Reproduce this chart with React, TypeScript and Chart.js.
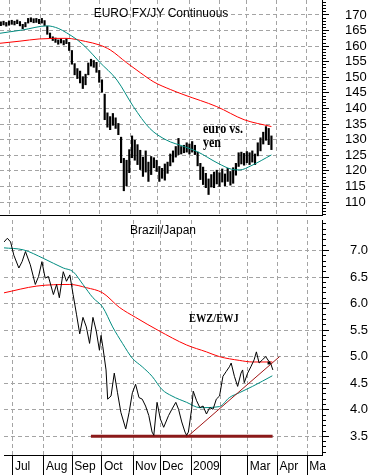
import React, { useEffect, useRef } from 'react';
import { Chart, registerables } from 'chart.js';

Chart.register(...registerables);

const FONT = '"Liberation Sans", Arial, Helvetica, sans-serif';
const SERIF = '"Liberation Serif", "Times New Roman", serif';
const RED = '#ff0000';
const TEAL = '#008c80';
const GRID = '#a4a4a4';

// x = trading-day index counted from 1 Jul 2008
const xMin = -6.6;
const xMax = 229;
const monthTicks = [0, 23, 44, 66, 89, 109, 132, 154, 174, 196, 218];
const monthLabels = ['Jul', 'Aug', 'Sep', 'Oct', 'Nov', 'Dec', '2009', '', 'Mar', 'Apr', 'Ma'];

// ---------- top panel: EURO FX/JY ----------
const fxTicks = [110, 115, 120, 125, 130, 135, 140, 145, 150, 155, 160, 165, 170];
const fxMin = 105.83;
const fxMax = 174.8;
const fxDays = [
  -6, -4, -2, 0, 2, 4, 6, 8, 10, 12, 14, 16, 18, 20, 22, 24, 26, 28, 30, 32,
  34, 36, 38, 40, 42, 44, 46, 48, 50, 52, 54, 56, 58, 60, 62, 64, 66, 68, 70, 72,
  74, 76, 78, 80, 82, 84, 86, 88, 90, 92, 94, 96, 98, 100, 102, 104, 106, 108, 110, 112,
  114, 116, 118, 120, 122, 124, 126, 128, 130, 132, 134, 136, 138, 140, 142, 144, 146, 148, 150, 152,
  154, 156, 158, 160, 162, 164, 166, 168, 170, 172, 174, 176, 178, 180, 182, 184, 186, 188, 190, 192,
];
const fxLow = [
  166.6, 166.8, 166.4, 166.7, 167.0, 166.8, 167.2, 166.5, 165.6, 166.2,
  167.4, 167.8, 167.5, 167.6, 167.2, 167.4, 166.6, 163.8, 162.6, 161.8,
  161.2, 160.6, 161.0, 160.4, 160.8, 158.6, 154.2, 150.8, 149.6, 148.2,
  146.4, 147.6, 150.8, 153.6, 153.2, 151.6, 148.4, 145.2, 136.4, 134.0,
  133.2, 134.6, 133.6, 131.6, 122.6, 113.6, 115.2, 119.4, 124.2, 123.4,
  122.0, 120.4, 118.2, 119.6, 116.6, 118.8, 121.0, 119.8, 116.6, 117.6,
  117.0, 119.2, 121.6, 122.8, 124.4, 125.2, 125.4, 125.8, 126.0, 125.4,
  126.0, 125.2, 121.6, 117.2, 115.6, 114.6, 112.4, 114.8, 114.6, 115.8,
  115.0, 116.4, 115.2, 116.6, 115.4, 116.0, 118.6, 121.4, 122.2, 121.8,
  122.6, 122.0, 122.8, 122.0, 124.8, 126.4, 128.6, 129.8, 128.4, 126.8,
];
const fxHigh = [
  167.8, 168.0, 167.6, 168.1, 168.3, 168.0, 168.4, 167.9, 167.0, 167.6,
  168.9, 169.1, 168.8, 168.9, 168.6, 168.9, 168.2, 166.4, 164.2, 163.0,
  162.6, 162.0, 162.4, 161.8, 162.4, 161.2, 158.6, 154.4, 152.8, 152.0,
  150.2, 151.0, 154.6, 155.8, 155.4, 154.8, 152.2, 149.2, 144.6, 138.6,
  137.4, 138.4, 137.0, 135.2, 130.8, 124.0, 123.4, 126.8, 131.2, 129.8,
  128.4, 126.6, 124.4, 126.4, 122.8, 124.6, 124.2, 123.4, 121.4, 120.8,
  122.2, 122.8, 125.4, 126.4, 127.8, 130.4, 127.8, 128.2, 129.0, 128.6,
  129.4, 128.2, 126.0, 122.4, 121.2, 119.2, 117.4, 118.8, 119.6, 120.2,
  119.4, 120.6, 119.0, 120.8, 119.8, 121.0, 122.4, 125.8, 126.0, 125.6,
  126.2, 125.8, 126.4, 125.4, 129.0, 130.6, 132.4, 134.2, 133.6, 131.2,
];
const fxRedDays = [-7, 8, 22, 42, 56, 66, 74, 86, 96, 106, 118, 128, 152, 172, 192];
const fxRedVals = [160.9, 161.6, 162.3, 162.5, 161.5, 160.4, 158.8, 154.7, 151.5, 148.5, 146.1, 144.4, 140.6, 136.4, 134.2];
const fxTealDays = [-7, 10, 28, 36, 42, 50, 57, 66, 79, 91, 103, 115, 128, 138, 153, 163, 169, 177, 192];
const fxTealVals = [164.1, 165.2, 166.5, 165.7, 164.3, 162.0, 159.3, 155.0, 149.1, 140.6, 133.6, 129.9, 127.8, 126.1, 122.4, 120.5, 120.3, 121.6, 125.1];

// ---------- bottom panel: Brazil/Japan ----------
const bzTicks = [3.5, 4.0, 4.5, 5.0, 5.5, 6.0, 6.5, 7.0];
const bzMin = 3.148;
const bzMax = 7.574;
const bzDays = [
  -6.6, -4.1, -1.7, 0.7, 4.4, 6.8, 9.3, 12.9, 16.6, 19.0,
  21.5, 23.9, 26.3, 30.0, 32.4, 34.4, 37.3, 39.7, 42.2, 44.6,
  47.1, 49.5, 51.9, 54.4, 56.8, 59.3, 61.7, 64.1, 65.3, 66.6,
  69.0, 70.2, 72.7, 75.1, 77.5, 80.0, 83.6, 86.1, 88.5, 90.9,
  93.4, 95.8, 98.3, 100.7, 103.1, 104.4, 106.8, 109.2, 111.7, 115.3,
  117.8, 120.7, 122.7, 125.1, 127.5, 128.7, 130.0, 132.4, 133.6, 136.1,
  138.5, 140.9, 143.4, 145.8, 148.3, 150.7, 153.1, 155.6, 158.0, 160.4,
  161.7, 164.1, 166.5, 169.0, 170.2, 171.4, 173.9, 176.3, 178.7, 180.4,
  182.4, 184.8, 187.3, 189.7, 190.9, 192.6,
];
const bzVals = [
  7.16, 7.23, 7.16, 6.91, 6.67, 6.79, 6.98, 6.73, 6.36, 6.51,
  6.79, 6.48, 6.51, 6.17, 6.36, 6.11, 6.6, 6.42, 6.54, 6.17,
  5.8, 5.43, 5.74, 5.56, 5.25, 5.74, 5.49, 5.12, 5.4, 5.19,
  4.75, 4.2, 4.26, 4.69, 4.32, 3.95, 3.64, 3.95, 4.32, 4.48,
  4.23, 4.2, 4.07, 3.89, 3.58, 3.52, 4.14, 3.83, 3.67, 3.89,
  4.01, 4.14, 4.01, 3.77, 3.58, 3.52, 3.58, 4.01, 4.35, 4.17,
  4.04, 4.07, 3.92, 4.04, 4.01, 4.2, 4.26, 4.63, 4.72, 4.81,
  4.88, 4.63, 4.44, 4.69, 4.75, 4.51, 4.69, 4.81, 4.94, 5.09,
  4.88, 4.94, 5.0, 4.91, 4.88, 4.75,
];
const bzRedDays = [-7, 17.8, 42.2, 54.4, 66.6, 78.8, 90.9, 108, 128.7, 143.4, 153.1, 167.7, 177.5, 192.2];
const bzRedVals = [6.2, 6.33, 6.36, 6.3, 6.2, 5.93, 5.74, 5.49, 5.22, 5.09, 5.0, 4.93, 4.9, 4.9];
const bzTealDays = [-7, 8, 22.7, 37.3, 44.6, 51.9, 59.3, 66.6, 73.9, 81.2, 88.5, 95.8, 103.1, 110.5, 117.8, 128.7, 138.5, 153.1, 160.4, 167.7, 177.5, 192.2];
const bzTealVals = [7.05, 7.01, 6.85, 6.67, 6.6, 6.36, 6.11, 5.93, 5.56, 5.25, 4.97, 4.81, 4.63, 4.38, 4.26, 4.14, 4.04, 4.06, 4.23, 4.32, 4.44, 4.64];
const trendDays = [128.7, 197.5];
const trendVals = [3.48, 5.0];
const supportDays = [57.8, 192.4];
const supportVals = [3.5, 3.5];
const dotDays = [189.7];
const dotVals = [4.88];

const zip = (xs: number[], ys: number[]) => xs.map((x, i) => ({ x, y: ys[i] }));

// dashed grid placed through the chart's own scales; dashes painted as 1px rects
function dashedGridPlugin(yTicks: number[]) {
  return {
    id: 'dashedGrid',
    beforeDatasetsDraw(chart: any) {
      const { ctx, chartArea, scales } = chart;
      const { left, right, top, bottom } = chartArea;
      const on = 4;
      const period = 7;
      ctx.save();
      ctx.fillStyle = GRID;
      for (const v of yTicks) {
        const py = Math.floor(scales.y.getPixelForValue(v));
        if (py < top || py > bottom) continue;
        for (let x = left; x < right; x += period) ctx.fillRect(x, py, Math.min(on, right - x), 1);
      }
      for (const m of monthTicks) {
        const px = Math.floor(scales.x.getPixelForValue(m));
        if (px < left || px > right) continue;
        for (let y = top; y < bottom; y += period) ctx.fillRect(px, y, 1, Math.min(on, bottom - y));
      }
      ctx.restore();
    },
  };
}

type Note = { text: string; font: string; x: number | 'center'; y: number; align: CanvasTextAlign; sx?: number };

function notesPlugin(items: Note[]) {
  return {
    id: 'notes',
    afterDraw(chart: any) {
      const { ctx, chartArea } = chart;
      ctx.save();
      ctx.fillStyle = '#000';
      ctx.textBaseline = 'alphabetic';
      for (const it of items) {
        ctx.font = it.font;
        ctx.textAlign = it.align;
        const x = it.x === 'center' ? (chartArea.left + chartArea.right) / 2 : chartArea.left + it.x;
        const y = chartArea.top + it.y;
        ctx.save();
        ctx.translate(x, y);
        ctx.scale(it.sx ?? 1, 1);
        ctx.fillText(it.text, 0, 0);
        ctx.restore();
      }
      ctx.restore();
    },
  };
}

function yAxes(majors: number[], minorStep: number, min: number, max: number, fmt: (v: number) => string, pad: number) {
  return {
    y: {
      type: 'linear',
      position: 'right',
      min,
      max,
      weight: 1,
      afterBuildTicks: (s: any) => {
        s.ticks = majors.map((v) => ({ value: v }));
      },
      afterFit: (s: any) => {
        s.width = 49;
        s.paddingTop = 0;
        s.paddingBottom = 0;
      },
      ticks: {
        color: '#000',
        font: { family: FONT, size: 13 },
        padding: pad,
        crossAlign: 'near',
        autoSkip: false,
        callback: (v: number) => fmt(v),
      },
      grid: { drawOnChartArea: false, color: '#000', tickColor: '#000', tickLength: 7, lineWidth: 1 },
      border: { display: true, color: '#000', width: 1 },
    },
    yMinor: {
      type: 'linear',
      position: 'right',
      min,
      max,
      weight: 0,
      afterBuildTicks: (s: any) => {
        const t: { value: number }[] = [];
        const n0 = Math.ceil(min / minorStep);
        const n1 = Math.floor(max / minorStep);
        for (let n = n0; n <= n1; n++) t.push({ value: n * minorStep });
        s.ticks = t;
      },
      afterFit: (s: any) => {
        s.width = 0;
        s.paddingTop = 0;
        s.paddingBottom = 0;
      },
      ticks: { display: false },
      grid: { drawOnChartArea: false, color: '#000', tickColor: '#000', tickLength: 4 },
      border: { display: false },
    },
  };
}

function xAxis(showLabels: boolean) {
  return {
    type: 'linear',
    min: xMin,
    max: xMax,
    offset: false,
    afterBuildTicks: (s: any) => {
      s.ticks = monthTicks.map((v) => ({ value: v }));
    },
    afterFit: (s: any) => {
      s.height = showLabels ? 20 : 1;
      s.paddingLeft = 0;
      s.paddingRight = 0;
    },
    ticks: {
      display: showLabels,
      autoSkip: false,
      maxRotation: 0,
      minRotation: 0,
      align: 'start',
      labelOffset: 2,
      padding: -16,
      color: '#000',
      font: { family: FONT, size: 12 },
      callback: (v: number) => monthLabels[monthTicks.indexOf(v)] ?? '',
    },
    grid: {
      drawOnChartArea: false,
      offset: false,
      color: '#000',
      lineWidth: 1,
      drawTicks: showLabels,
      tickLength: 20,
      tickColor: '#000',
      tickWidth: 1,
    },
    border: { display: true, color: '#000', width: 1 },
  };
}

function baseOptions() {
  return {
    responsive: false,
    animation: false,
    events: [],
    plugins: { legend: { display: false }, tooltip: { enabled: false } },
  };
}

export default function App() {
  const topRef = useRef<HTMLCanvasElement>(null);
  const botRef = useRef<HTMLCanvasElement>(null);

  useEffect(() => {
    document.body.style.margin = '0';

    const top = new Chart(topRef.current as HTMLCanvasElement, {
      type: 'bar',
      data: {
        datasets: [
          {
            type: 'line',
            data: zip(fxTealDays, fxTealVals),
            borderColor: TEAL,
            borderWidth: 1,
            pointRadius: 0,
            cubicInterpolationMode: 'monotone',
          },
          {
            type: 'line',
            data: zip(fxRedDays, fxRedVals),
            borderColor: RED,
            borderWidth: 1,
            pointRadius: 0,
            cubicInterpolationMode: 'monotone',
          },
          {
            type: 'bar',
            data: fxDays.map((d, i) => ({ x: d, y: [fxLow[i], fxHigh[i]] })),
            backgroundColor: '#000',
            borderWidth: 0,
            barThickness: 1.5,
          },
        ],
      } as any,
      options: {
        ...baseOptions(),
        scales: {
          x: xAxis(false),
          ...yAxes(fxTicks, 1, fxMin, fxMax, (v) => String(Math.round(v)), 16),
        },
      } as any,
      plugins: [
        dashedGridPlugin(fxTicks),
        notesPlugin([
          { text: 'EURO FX/JY Continuous', font: `12px ${FONT}`, x: 'center', y: 17, align: 'center' },
          { text: 'euro vs.', font: `bold 14px ${SERIF}`, x: 203, y: 133, align: 'left', sx: 0.86 },
          { text: 'yen', font: `bold 14px ${SERIF}`, x: 203, y: 146.5, align: 'left', sx: 0.86 },
        ]),
      ],
    });

    const bot = new Chart(botRef.current as HTMLCanvasElement, {
      type: 'line',
      data: {
        datasets: [
          {
            data: zip(dotDays, dotVals),
            showLine: false,
            pointRadius: 2,
            pointStyle: 'rect',
            backgroundColor: '#000',
            borderColor: '#000',
            borderWidth: 0,
          },
          {
            data: zip(trendDays, trendVals),
            borderColor: '#a01414',
            borderWidth: 1,
            pointRadius: 0,
          },
          {
            data: zip(bzDays, bzVals),
            borderColor: '#000',
            borderWidth: 1,
            pointRadius: 0,
            tension: 0,
          },
          {
            data: zip(bzTealDays, bzTealVals),
            borderColor: TEAL,
            borderWidth: 1,
            pointRadius: 0,
            cubicInterpolationMode: 'monotone',
          },
          {
            data: zip(bzRedDays, bzRedVals),
            borderColor: RED,
            borderWidth: 1,
            pointRadius: 0,
            cubicInterpolationMode: 'monotone',
          },
          {
            data: zip(supportDays, supportVals),
            borderColor: '#8b1a1a',
            borderWidth: 3,
            pointRadius: 0,
          },
        ],
      } as any,
      options: {
        ...baseOptions(),
        scales: {
          x: xAxis(true),
          ...yAxes(bzTicks, 0.1, bzMin, bzMax, (v) => v.toFixed(1), 21),
        },
      } as any,
      plugins: [
        dashedGridPlugin(bzTicks),
        notesPlugin([
          { text: 'Brazil/Japan', font: `12px ${FONT}`, x: 'center', y: 13.5, align: 'center' },
          { text: 'EWZ/EWJ', font: `bold 13px ${SERIF}`, x: 185, y: 102, align: 'left', sx: 0.8 },
        ]),
      ],
    });

    return () => {
      top.destroy();
      bot.destroy();
    };
  }, []);

  return (
    <div>
      <canvas ref={topRef} width={371} height={216} style={{ display: 'block' }} />
      <canvas ref={botRef} width={371} height={259} style={{ display: 'block' }} />
    </div>
  );
}
